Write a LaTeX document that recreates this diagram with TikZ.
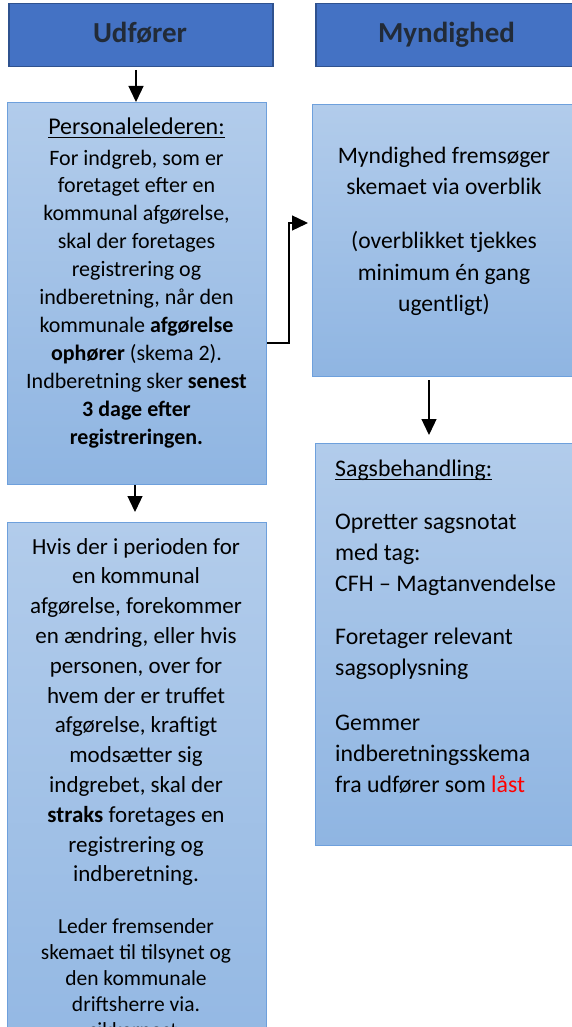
\documentclass[tikz,border=0pt]{standalone}
\usepackage{fontspec}
\setmainfont{Carlito}
\usetikzlibrary{arrows.meta,calc}
\definecolor{hdrfill}{HTML}{4472C4}
\definecolor{hdrborder}{HTML}{2F528F}
\definecolor{hdrtext}{HTML}{222B38}
\definecolor{boxtop}{HTML}{B2CCEB}
\definecolor{boxbot}{HTML}{8FB5E2}
\definecolor{boxborder}{HTML}{6EA0DC}
\definecolor{lockred}{HTML}{FF0000}
\newcommand\fsz[2]{\fontsize{#1}{#2}\selectfont}
\newcommand\myul[1]{\setbox0\hbox{#1}\rlap{\rule[-4pt]{\wd0}{1.3pt}}\box0}
\tikzset{
  hdr/.style={draw=hdrborder, fill=hdrfill, line width=1.5pt, minimum width=264pt,
    minimum height=63pt, anchor=north west, inner sep=0pt},
  lbox/.style={draw=boxborder, line width=1.2pt, top color=boxtop, bottom color=boxbot,
    anchor=north west, inner sep=0pt},
  txt/.style={inner sep=0pt, align=center, text=black, anchor=base},
  htxt/.style={inner sep=0pt, text=hdrtext, anchor=base, font=\fsz{29}{35}\bfseries},
  arr/.style={line width=1.3pt, -{Triangle[length=16pt,width=15pt]}}
}
\begin{document}
\begin{tikzpicture}[x=1pt,y=-1pt]
\useasboundingbox (0,0) rectangle (572,1027);
\clip (0,0) rectangle (572,1027);
\fill[white] (0,0) rectangle (572,1027);

% headers
\node[hdr] (h1) at (8,3) {};
\node[hdr, minimum width=263pt] (h2) at (315,3) {};
\node[htxt] (h1t) at (140,42.5) {Udfører};
\node[htxt] (h2t) at (446.5,42.5) {Myndighed};

% boxes
\node[lbox, minimum width=259pt, minimum height=382pt] (b1) at (7,102) {};
\node[lbox, minimum width=259pt, minimum height=600pt] (b2) at (7,522) {};
\node[lbox, minimum width=263pt, minimum height=272pt] (b3) at (312,104) {};
\node[lbox, minimum width=263pt, minimum height=402pt] (b4) at (315,443) {};

% box 1 text (anchor = baseline of last line)
\node[txt, font=\fsz{24}{29}] (b1h) at (136.5,134.5) {\myul{Personalelederen:}};
\node[txt, font=\fsz{22}{27.9}] (b1t) at (136.5,444) {For indgreb, som er\\
foretaget efter en\\
kommunal afgørelse,\\
skal der foretages\\
registrering og\\
indberetning, når den\\
kommunale \textbf{afgørelse}\\
\textbf{ophører} (skema 2).\\
Indberetning sker \textbf{senest}\\
\textbf{3 dage efter}\\
\textbf{registreringen.}};

% box 2 text
\node[txt, font=\fsz{23}{29.8}] (b2t) at (136,881.8) {Hvis der i perioden for\\
en kommunal\\
afgørelse, forekommer\\
en ændring, eller hvis\\
personen, over for\\
hvem der er truffet\\
afgørelse, kraftigt\\
modsætter sig\\
indgrebet, skal der\\
\textbf{straks} foretages en\\
registrering og\\
indberetning.};
\node[txt, font=\fsz{21.5}{26.2}] (b2l) at (136,1037.8) {Leder fremsender\\
skemaet til tilsynet og\\
den kommunale\\
driftsherre via.\\
sikkerpost.};

% box 3 text
\node[txt, font=\fsz{23.6}{31.5}] (b3t) at (444,311.9) {Myndighed fremsøger\\
skemaet via overblik\\[22.5pt]
(overblikket tjekkes\\
minimum én gang\\
ugentligt)};

% box 4 text
\node[txt, align=left, anchor=base west, font=\fsz{23.8}{31}] (b4t) at (335,792) {\myul{Sagsbehandling:}\\[22pt]
Opretter sagsnotat\\
med tag:\\
CFH – Magtanvendelse\\[22pt]
Foretager relevant\\
sagsoplysning\\[24pt]
Gemmer\\
indberetningsskema\\
fra udfører som \textcolor{lockred}{låst}};

% connectors
\coordinate (a1s) at (136,70);
\draw[arr] (a1s) -- (a1s |- b1.north);
\coordinate (a2e) at (135,512);
\draw[arr] (a2e |- b1.south) -- (a2e);
\coordinate (elb) at (289,223);
\draw[arr] (b1.east |- 0,343) -| (elb) -- ($(b3.west |- elb)+(-4,0)$);
\coordinate (a4s) at (429,380);
\coordinate (a4e) at (429,435);
\draw[arr] (a4s) -- (a4e);
\end{tikzpicture}
\end{document}
